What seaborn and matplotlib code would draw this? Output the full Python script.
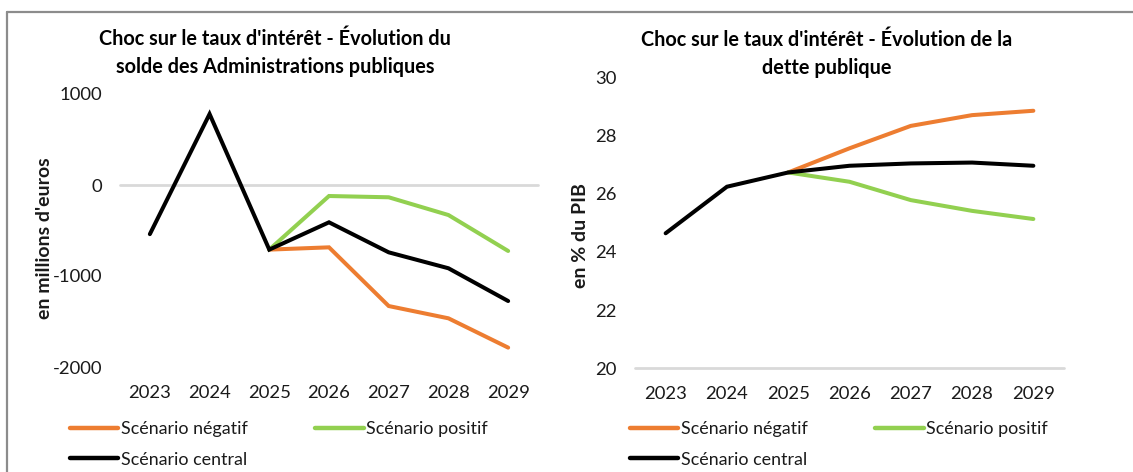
import numpy as np
import pandas as pd
import matplotlib
matplotlib.use("Agg")
import matplotlib.pyplot as plt
from matplotlib.lines import Line2D
import seaborn as sns

# ---------------- data ----------------
years = [2023, 2024, 2025, 2026, 2027, 2028, 2029]
scenarios = ["Scénario négatif", "Scénario positif", "Scénario central"]

solde_negatif = [np.nan, np.nan, -710, -685, -1330, -1465, -1787]
solde_positif = [np.nan, np.nan, -710, -121, -135, -330, -725]
solde_central = [-540, 780, -710, -410, -740, -915, -1275]

dette_negatif = [np.nan, np.nan, 26.73, 27.56, 28.33, 28.70, 28.85]
dette_positif = [np.nan, np.nan, 26.73, 26.41, 25.78, 25.41, 25.13]
dette_central = [24.64, 26.24, 26.73, 26.96, 27.04, 27.07, 26.96]

title_left = "Choc sur le taux d'intérêt - Évolution du\nsolde des Administrations publiques"
title_right = "Choc sur le taux d'intérêt - Évolution de la\ndette publique"
ylabel_left = "en millions d'euros"
ylabel_right = "en % du PIB"
yticks_left = [-2000, -1000, 0, 1000]
yticks_right = [20, 22, 24, 26, 28, 30]

colors = {"Scénario négatif": "#ED7D31", "Scénario positif": "#92D050", "Scénario central": "#000000"}


def long_df(neg, pos, cen):
    rows = []
    for name, vals in zip(scenarios, [neg, pos, cen]):
        for y, v in zip(years, vals):
            rows.append({"year": y, "value": v, "scenario": name})
    return pd.DataFrame(rows).dropna()


df_solde = long_df(solde_negatif, solde_positif, solde_central)
df_dette = long_df(dette_negatif, dette_positif, dette_central)

# ---------------- style ----------------
sns.set_theme(style="white")
plt.rcParams["font.family"] = ["Lato", "DejaVu Sans"]
W, H = 1133, 472
fig = plt.figure(figsize=(W / 100, H / 100), dpi=100)
fig.patch.set_facecolor("white")

txt_col = "#1a1a1a"
LW = 2.9
TICK_FS = 13.3


def px_axes(x0, x1, ytop, ybot):
    return fig.add_axes([x0 / W, (H - ybot) / H, (x1 - x0) / W, (ybot - ytop) / H])


def style_axis(ax, data, yticks, ylim, baseline):
    sns.lineplot(data=data, x="year", y="value",
                 hue="scenario", hue_order=scenarios, palette=colors,
                 linewidth=LW, ax=ax, legend=False, sort=True)
    for ln in ax.lines:
        ln.set_solid_capstyle("round")
        ln.set_solid_joinstyle("miter")
    ax.set_xlim(2022.5, 2029.5)
    ax.set_ylim(*ylim)
    ax.set_xticks(years)
    ax.set_xticklabels([str(y) for y in years])
    ax.set_yticks(yticks)
    ax.set_yticklabels([str(t) for t in yticks])
    ax.tick_params(axis="both", length=0, labelsize=TICK_FS, colors=txt_col)
    ax.tick_params(axis="y", pad=13)
    ax.tick_params(axis="x", pad=13)
    for s in ax.spines.values():
        s.set_visible(False)
    ax.axhline(baseline, color="#D9D9D9", lw=2.0, zorder=0, clip_on=False)
    ax.set_xlabel("")
    ax.set_ylabel("")
    ax.grid(False)
    ax.set_facecolor("none")


axL = px_axes(120, 538, 94, 367)
style_axis(axL, df_solde, yticks_left, (-2000, 1000), 0)
axR = px_axes(635, 1064, 77.3, 368.3)
style_axis(axR, df_dette, yticks_right, (20, 30), 20)

# titles
fig.text(275 / W, 1 - 53 / H, title_left, ha="center", va="center", fontsize=14.3,
         fontweight="bold", color="#000000", linespacing=1.45)
fig.text(827 / W, 1 - 54 / H, title_right, ha="center", va="center", fontsize=14.3,
         fontweight="bold", color="#000000", linespacing=1.5)

# y labels
fig.text(45 / W, 1 - 238 / H, ylabel_left, rotation=90, ha="center", va="center",
         fontsize=14, fontweight="bold", color=txt_col)
fig.text(581 / W, 1 - 235 / H, ylabel_right, rotation=90, ha="center", va="center",
         fontsize=14, fontweight="bold", color=txt_col)

# legends
handles = {s: Line2D([0], [0], color=colors[s], lw=LW + 0.3, solid_capstyle="round") for s in scenarios}
order = ["Scénario négatif", "Scénario central", "Scénario positif"]
LEG_FS = 12.9
for x0 in (70, 630):
    fig.legend([handles[s] for s in order], order, loc="upper left",
               bbox_to_anchor=(x0 / W, 1 - 421 / H), ncol=2, frameon=False,
               fontsize=LEG_FS, handlelength=2.7, handletextpad=0.12,
               columnspacing=3.8, labelspacing=0.81, borderaxespad=0,
               borderpad=0, labelcolor=txt_col)

# outer frame (screenshot border)
fig.add_artist(Line2D([7 / W, 1.0], [1 - 11.5 / H, 1 - 11.5 / H], color="#8c8c8c", lw=1.6))
fig.add_artist(Line2D([7 / W, 7 / W], [1 - 11.5 / H, 0.0], color="#8c8c8c", lw=1.6))

fig.savefig("out.png", dpi=100, facecolor="white")
